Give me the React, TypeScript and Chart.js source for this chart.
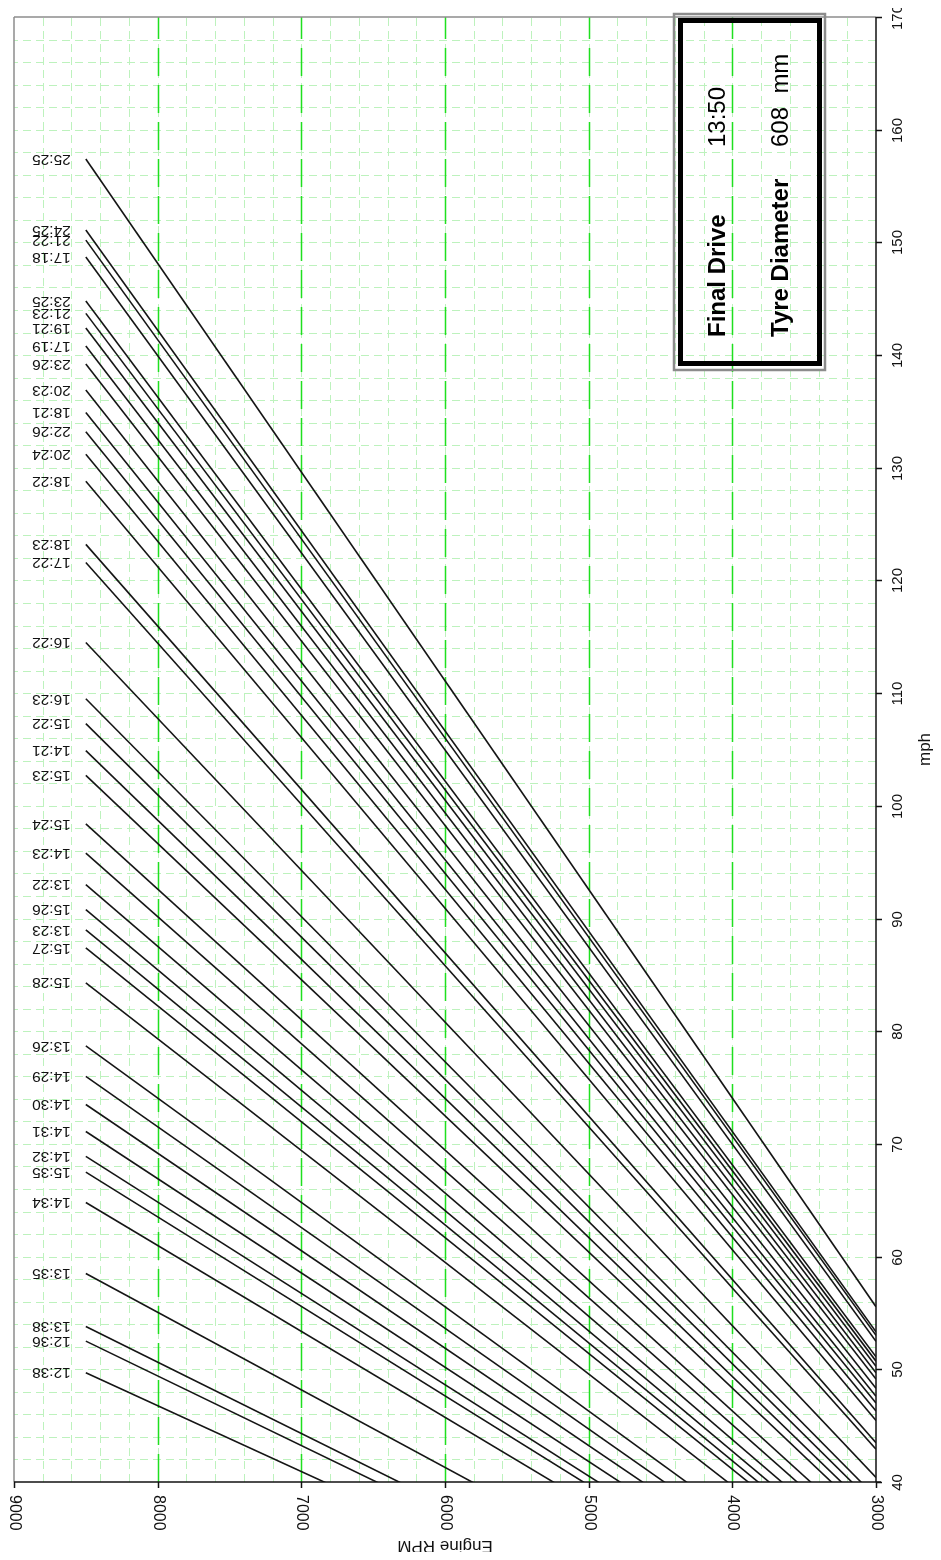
import React, { useEffect, useRef } from 'react';
import { Chart, registerables } from 'chart.js';

Chart.register(...registerables);

// Gearbox ratio labels (ordered from lowest to highest road speed)
const gearLabels = [
  '12:38', '12:36', '13:38', '13:35', '14:34', '15:35', '14:32', '14:31', '14:30', '14:29',
  '13:26', '15:28', '15:27', '13:23', '15:26', '13:22', '14:23', '15:24', '15:23', '14:21',
  '15:22', '16:23', '16:22', '17:22', '18:23', '18:22', '20:24', '22:26', '18:21', '20:23',
  '23:26', '17:19', '19:21', '21:23', '23:25', '17:18', '21:22', '24:25', '25:25',
];

// Road speed (mph) reached at the top RPM for each ratio
const topMph = [
  49.7, 52.5, 53.8, 58.5, 64.8, 67.5, 68.9, 71.1, 73.5, 76.0,
  78.7, 84.3, 87.4, 89.0, 90.8, 93.0, 95.8, 98.4, 102.7, 104.9,
  107.3, 109.5, 114.5, 121.6, 123.2, 128.8, 131.2, 133.2, 134.9, 136.9,
  139.2, 140.8, 142.4, 143.7, 144.8, 148.7, 150.2, 151.1, 157.4,
];

// Road speed (mph) at the bottom RPM for each ratio
const lowMph = [
  17.54, 18.53, 18.99, 20.65, 22.87, 23.82, 24.32, 25.09, 25.94, 26.82,
  27.78, 29.75, 30.85, 31.41, 32.05, 32.82, 33.81, 34.73, 36.25, 37.02,
  37.87, 38.65, 40.41, 42.92, 43.48, 45.46, 46.31, 47.01, 47.61, 48.32,
  49.13, 49.69, 50.26, 50.72, 51.11, 52.48, 53.01, 53.33, 55.55,
];

const rpmLow = 3000;
const rpmHigh = 8500;

const rpmTicks = [3000, 4000, 5000, 6000, 7000, 8000, 9000];
const rpmTickLabels = ['3000', '4000', '5000', '6000', '7000', '8000', '9000'];
const mphTicks = [40, 50, 60, 70, 80, 90, 100, 110, 120, 130, 140, 150, 160, 170];
const mphTickLabels = ['40', '50', '60', '70', '80', '90', '100', '110', '120', '130', '140', '150', '160', '170'];

const xTitle = 'Engine RPM';
const yTitle = 'mph';
const finalDriveLabel = 'Final Drive';
const finalDriveValue = '13:50';
const tyreLabel = 'Tyre Diameter';
const tyreValue = '608  mm';

const W = 941;
const H = 1560;
const FONT = '"Liberation Sans", Arial, Helvetica, sans-serif';

function rotText(
  ctx: CanvasRenderingContext2D,
  text: string,
  x: number,
  y: number,
  angle: number,
  align: CanvasTextAlign,
  baseline: CanvasTextBaseline,
  font: string,
  color = '#111'
) {
  ctx.save();
  ctx.translate(x, y);
  ctx.rotate(angle);
  ctx.font = font;
  ctx.fillStyle = color;
  ctx.textAlign = align;
  ctx.textBaseline = baseline;
  ctx.fillText(text, 0, 0);
  ctx.restore();
}

function seg(ctx: CanvasRenderingContext2D, x1: number, y1: number, x2: number, y2: number) {
  ctx.beginPath();
  ctx.moveTo(x1, y1);
  ctx.lineTo(x2, y2);
  ctx.stroke();
}

const gearPlugin = {
  id: 'gearPlugin',
  beforeDatasetsDraw(chart: any) {
    const { ctx, chartArea: a } = chart;
    const xs = chart.scales.x;
    const ys = chart.scales.y;
    ctx.save();
    // minor grid
    ctx.strokeStyle = '#bdf2bd';
    ctx.lineWidth = 1;
    ctx.setLineDash([8, 5]);
    for (let r = 3200; r < 9000; r += 200) {
      const px = Math.round(xs.getPixelForValue(r)) + 0.5;
      seg(ctx, px, a.bottom, px, a.top);
    }
    for (let m = 42; m < 170; m += 2) {
      const py = Math.round(ys.getPixelForValue(m)) + 0.5;
      seg(ctx, a.right, py, a.left, py);
    }
    // major RPM grid
    ctx.strokeStyle = '#1fe01f';
    ctx.lineWidth = 1.5;
    ctx.setLineDash([28, 9]);
    rpmTicks.forEach((r) => {
      if (r === 3000 || r === 9000) return;
      const px = Math.round(xs.getPixelForValue(r)) + 0.5;
      seg(ctx, px, a.bottom, px, a.top);
    });
    // gray plot borders (top, left)
    ctx.setLineDash([]);
    ctx.strokeStyle = '#8c8c8c';
    ctx.lineWidth = 1.5;
    seg(ctx, a.left, a.top, a.right, a.top);
    seg(ctx, a.left, a.top, a.left, a.bottom);
    ctx.restore();
  },
  afterDatasetsDraw(chart: any) {
    const { ctx, chartArea: a } = chart;
    const xs = chart.scales.x;
    const ys = chart.scales.y;
    ctx.save();
    ctx.setLineDash([]);
    ctx.strokeStyle = '#111';
    ctx.lineWidth = 1.5;
    // axis lines
    seg(ctx, a.left, a.bottom, a.right + 5, a.bottom);
    seg(ctx, a.right, a.top, a.right, a.bottom);
    // tick marks + labels (RPM)
    rpmTicks.forEach((r, i) => {
      const px = Math.round(xs.getPixelForValue(r)) + 0.5;
      seg(ctx, px, a.bottom, px, a.bottom + 6);
      rotText(ctx, rpmTickLabels[i], px, a.bottom + 13, Math.PI / 2, 'left', 'middle', `16px ${FONT}`);
    });
    // tick marks + labels (mph)
    mphTicks.forEach((m, i) => {
      const py = Math.round(ys.getPixelForValue(m)) + 0.5;
      seg(ctx, a.right, py, a.right + 6, py);
      rotText(ctx, mphTickLabels[i], a.right + 22, py, -Math.PI / 2, 'center', 'middle', `15px ${FONT}`);
    });
    // axis titles
    rotText(ctx, xTitle, (a.left + a.right) / 2, a.bottom + 64, Math.PI, 'center', 'middle', `17px ${FONT}`);
    rotText(ctx, yTitle, a.right + 49, (a.top + a.bottom) / 2, -Math.PI / 2, 'center', 'middle', `17px ${FONT}`);
    // line labels
    const lx = xs.getPixelForValue(rpmHigh) - 15;
    gearLabels.forEach((lab, i) => {
      const py = ys.getPixelForValue(topMph[i]);
      rotText(ctx, lab, lx, py, Math.PI, 'left', 'middle', `15.5px ${FONT}`);
    });
    // info box
    ctx.strokeStyle = '#8c8c8c';
    ctx.lineWidth = 2.5;
    ctx.strokeRect(674, 14, 151, 356);
    ctx.strokeStyle = '#000';
    ctx.lineWidth = 5;
    ctx.strokeRect(680.5, 20.5, 139, 343);
    rotText(ctx, finalDriveLabel, 725, 337, -Math.PI / 2, 'left', 'alphabetic', `bold 24px ${FONT}`, '#000');
    rotText(ctx, finalDriveValue, 725, 147, -Math.PI / 2, 'left', 'alphabetic', `24px ${FONT}`, '#000');
    rotText(ctx, tyreLabel, 788, 337, -Math.PI / 2, 'left', 'alphabetic', `bold 24px ${FONT}`, '#000');
    rotText(ctx, tyreValue, 788, 147, -Math.PI / 2, 'left', 'alphabetic', `24px ${FONT}`, '#000');
    ctx.restore();
  },
};

export default function App() {
  const ref = useRef<HTMLCanvasElement>(null);

  useEffect(() => {
    if (!ref.current) return;
    const datasets = gearLabels.map((lab, i) => ({
      label: lab,
      data: [
        { x: rpmLow, y: lowMph[i] },
        { x: rpmHigh, y: topMph[i] },
      ],
      showLine: true,
      borderColor: '#151515',
      borderWidth: 1.6,
      pointRadius: 0,
      pointHoverRadius: 0,
      tension: 0,
      fill: false,
    }));
    const chart = new Chart(ref.current, {
      type: 'scatter',
      data: { datasets },
      options: {
        responsive: false,
        animation: false,
        devicePixelRatio: 1,
        layout: { padding: { left: 14, top: 17, right: 0, bottom: 0 } },
        plugins: {
          legend: { display: false },
          tooltip: { enabled: false },
          title: { display: false },
        },
        events: [],
        scales: {
          x: {
            type: 'linear',
            position: 'bottom',
            min: 3000,
            max: 9000,
            reverse: true,
            grid: { display: false },
            border: { display: false },
            ticks: { display: false },
            afterFit: (s: any) => {
              s.height = 78;
            },
          },
          y: {
            type: 'linear',
            position: 'right',
            min: 40,
            max: 170,
            grid: { display: false },
            border: { display: false },
            ticks: { display: false },
            afterFit: (s: any) => {
              s.width = 65;
            },
          },
        },
      } as any,
      plugins: [gearPlugin],
    });
    return () => chart.destroy();
  }, []);

  return (
    <canvas
      ref={ref}
      width={W}
      height={H}
      style={{ display: 'block', width: W, height: H, margin: -8 }}
    />
  );
}
